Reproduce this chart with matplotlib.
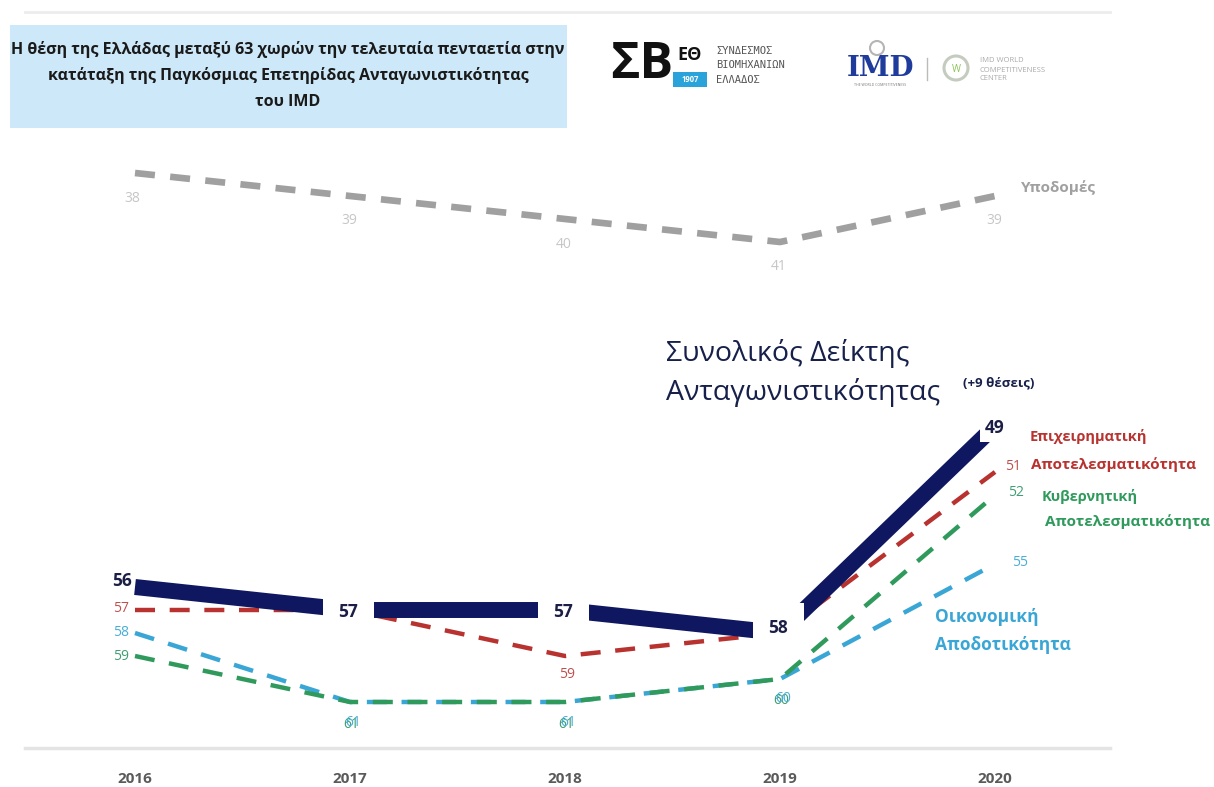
import matplotlib.pyplot as plt
from matplotlib.patches import Rectangle, Circle
from matplotlib.transforms import IdentityTransform

plt.rcParams['font.family'] = ['Open Sans', 'DejaVu Sans']

years = ['2016', '2017', '2018', '2019', '2020']
overall = [56, 57, 57, 58, 49]
business = [57, 57, 59, 58, 51]
government = [59, 61, 61, 60, 52]
economic = [58, 61, 61, 60, 55]
infrastructure = [38, 39, 40, 41, 39]

NAVY = '#0e1760'
RED = '#b8322f'
GREEN = '#2f9a5c'
BLUE = '#3aa6d6'
GREY = '#a0a0a0'

W, H = 1214, 787
fig = plt.figure(figsize=(W / 100, H / 100), dpi=100)


def fx(x):
    return x / W


def fy(y):
    return 1 - y / H


# plot area: bottom rule at rank 63, years 215 px apart
ax = fig.add_axes([fx(25), fy(748), fx(1110) - fx(25), fy(12) - fy(748)])
x = list(range(len(years)))
ax.set_xlim((25 - 135) / 215, (1110 - 135) / 215)
ax.set_ylim(63, 31.0)
for side in ['left', 'right']:
    ax.spines[side].set_visible(False)
ax.spines['bottom'].set_color('#e4e4e4')
ax.spines['bottom'].set_linewidth(2.5)
ax.spines['top'].set_color('#ececec')
ax.spines['top'].set_linewidth(2)
ax.set_yticks([])
ax.set_xticks(x)
ax.set_xticklabels(years, fontsize=11, fontweight='bold', color='#5a5a5a')
ax.tick_params(axis='x', length=0, pad=17)

# series lines
ax.plot(x, infrastructure, color=GREY, lw=4.8, dashes=(3.0, 2.3), zorder=2)
ax.plot(x, economic, color=BLUE, lw=3.2, dashes=(4.5, 3.3), zorder=3)
ax.plot(x, government, color=GREEN, lw=3.2, dashes=(4.5, 3.3), zorder=4)
ax.plot(x, business, color=RED, lw=3.2, dashes=(4.5, 3.3), zorder=5)
ax.plot(x, overall, color=NAVY, lw=11.5, solid_capstyle='butt', zorder=6)


def lab(i, v, text, dx, dy, color, size=10, ha='center', weight='normal', box=False,
        z=8, pad=0.9):
    kw = {}
    if box:
        kw['bbox'] = dict(boxstyle='square,pad=%s' % pad, fc='white', ec='none')
    ax.annotate(text, (i, v), xytext=(dx * 0.72, -dy * 0.72), textcoords='offset points',
                ha=ha, va='center', fontsize=size, color=color, fontweight=weight,
                zorder=z, annotation_clip=False, **kw)


# overall index values
lab(0, overall[0], str(overall[0]), -3, -6, '#1c1f45', 12.5, 'right', 'bold')
for i in (1, 2, 3):
    lab(i, overall[i], str(overall[i]), -2, 2 if i < 3 else -5, '#1c1f45', 12.5,
        weight='bold', box=True, z=9)
lab(4, overall[4], str(overall[4]), 0, 2, '#1c1f45', 12.5, weight='bold', box=True,
    z=9, pad=0.3)

# business efficiency
lab(0, business[0], str(business[0]), -6, -1, '#c0504d', 10, 'right')
lab(2, business[2], str(business[2]), 2, 19, '#c0504d', 10)
lab(4, business[4], str(business[4]), 10, -6, '#c0504d', 10, 'left')

# government efficiency
lab(0, government[0], str(government[0]), -6, 0, '#3f9e74', 10, 'right')
for i in (1, 2, 3):
    lab(i, government[i], str(government[i]), 1, 23 if i < 3 else 22, '#3f9e74', 10)
lab(4, government[4], str(government[4]), 13, -2, '#3f9e74', 10, 'left')

# economic performance
lab(0, economic[0], str(economic[0]), -6, -1, '#49aed6', 10, 'right')
for i in (1, 2, 3):
    lab(i, economic[i], str(economic[i]), 3, 21 if i < 3 else 20, '#49aed6', 10)
lab(4, economic[4], str(economic[4]), 17, -2, '#49aed6', 10, 'left')

# infrastructure
for i, v in enumerate(infrastructure):
    lab(i, v, str(v), -3 if i == 0 else -1, 25, '#c6c6c6', 10)

# series names
fig.text(fx(1058), fy(188), 'Υποδομές', ha='center', va='center', fontsize=11,
         fontweight='bold', color=GREY)
fig.text(fx(666), fy(353), 'Συνολικός Δείκτης', ha='left', va='center', fontsize=20.5,
         color='#16204a')
fig.text(fx(666), fy(392), 'Ανταγωνιστικότητας', ha='left', va='center', fontsize=20.5,
         color='#16204a')
fig.text(fx(963), fy(383), '(+9 θέσεις)', ha='left', va='center', fontsize=9.5,
         color='#16204a', fontweight='bold')
fig.text(fx(1030), fy(436), 'Επιχειρηματική', ha='left', va='center', fontsize=10.5,
         fontweight='bold', color=RED)
fig.text(fx(1031), fy(465), 'Αποτελεσματικότητα', ha='left', va='center', fontsize=11,
         fontweight='bold', color=RED)
fig.text(fx(1042), fy(497), 'Κυβερνητική', ha='left', va='center', fontsize=10.5,
         fontweight='bold', color=GREEN)
fig.text(fx(1045), fy(522), 'Αποτελεσματικότητα', ha='left', va='center', fontsize=11,
         fontweight='bold', color=GREEN)
fig.text(fx(935), fy(617), 'Οικονομική', ha='left', va='center', fontsize=12.5,
         fontweight='bold', color=BLUE)
fig.text(fx(935), fy(645), 'Αποδοτικότητα', ha='left', va='center', fontsize=12.5,
         fontweight='bold', color=BLUE)

# title box
fig.patches.append(Rectangle((fx(10), fy(128)), fx(567) - fx(10), fy(25) - fy(128),
                             transform=fig.transFigure, fc='#cde8f8', ec='none', zorder=0))
title = ['Η θέση της Ελλάδας μεταξύ 63 χωρών την τελευταία πενταετία στην',
         'κατάταξη της Παγκόσμιας Επετηρίδας Ανταγωνιστικότητας',
         'του IMD']
for k, line in enumerate(title):
    fig.text(fx(288), fy(50 + 26 * k), line, ha='center', va='center', fontsize=11.5,
             fontweight='bold', color='#1a1a1a')

# SBE logo
fig.text(fx(610), fy(65), 'ΣΒ', ha='left', va='center', fontsize=36, fontweight='bold',
         color='#111111')
fig.text(fx(690), fy(55), 'ΕΘ', ha='center', va='center', fontsize=13, fontweight='bold',
         color='#111111')
fig.patches.append(Rectangle((fx(673), fy(87)), fx(34), fy(72) - fy(87),
                             transform=fig.transFigure, fc='#2aa3da', ec='none'))
fig.text(fx(690), fy(79.5), '1907', ha='center', va='center', fontsize=5.5,
         color='white', fontweight='bold')
for k, w in enumerate(['ΣΥΝΔΕΣΜΟΣ', 'ΒΙΟΜΗΧΑΝΙΩΝ', 'ΕΛΛΑΔΟΣ']):
    fig.text(fx(716), fy(51 + 14.5 * k), w, ha='left', va='center', fontsize=7.5,
             family='DejaVu Sans Mono', color='#555555')

# IMD logo
fig.text(fx(880), fy(68), 'IMD', ha='center', va='center', fontsize=20, fontweight='bold',
         family='DejaVu Serif', color='#1f3b9c')
fig.patches.append(Circle((877, H - 48), 7, transform=IdentityTransform(),
                          fc='none', ec='#b5b5b5', lw=1.5))
fig.text(fx(880), fy(85), 'THE WORLD COMPETITIVENESS', ha='center', va='center',
         fontsize=2.5, color='#777777')
fig.lines.append(plt.Line2D([fx(927), fx(927)], [fy(58), fy(80)],
                            transform=fig.transFigure, color='#bbbbbb', lw=1))
fig.patches.append(Circle((956, H - 68), 12, transform=IdentityTransform(),
                          fc='none', ec='#c4cbbf', lw=2.2))
fig.text(fx(956), fy(70), 'W', ha='center', va='center', fontsize=7, color='#8cc45a')
for k, w in enumerate(['IMD WORLD', 'COMPETITIVENESS', 'CENTER']):
    fig.text(fx(980), fy(61 + 9 * k), w, ha='left', va='center', fontsize=5.5,
             color='#aaaaaa')

fig.savefig('out.png', dpi=100, facecolor='white')
